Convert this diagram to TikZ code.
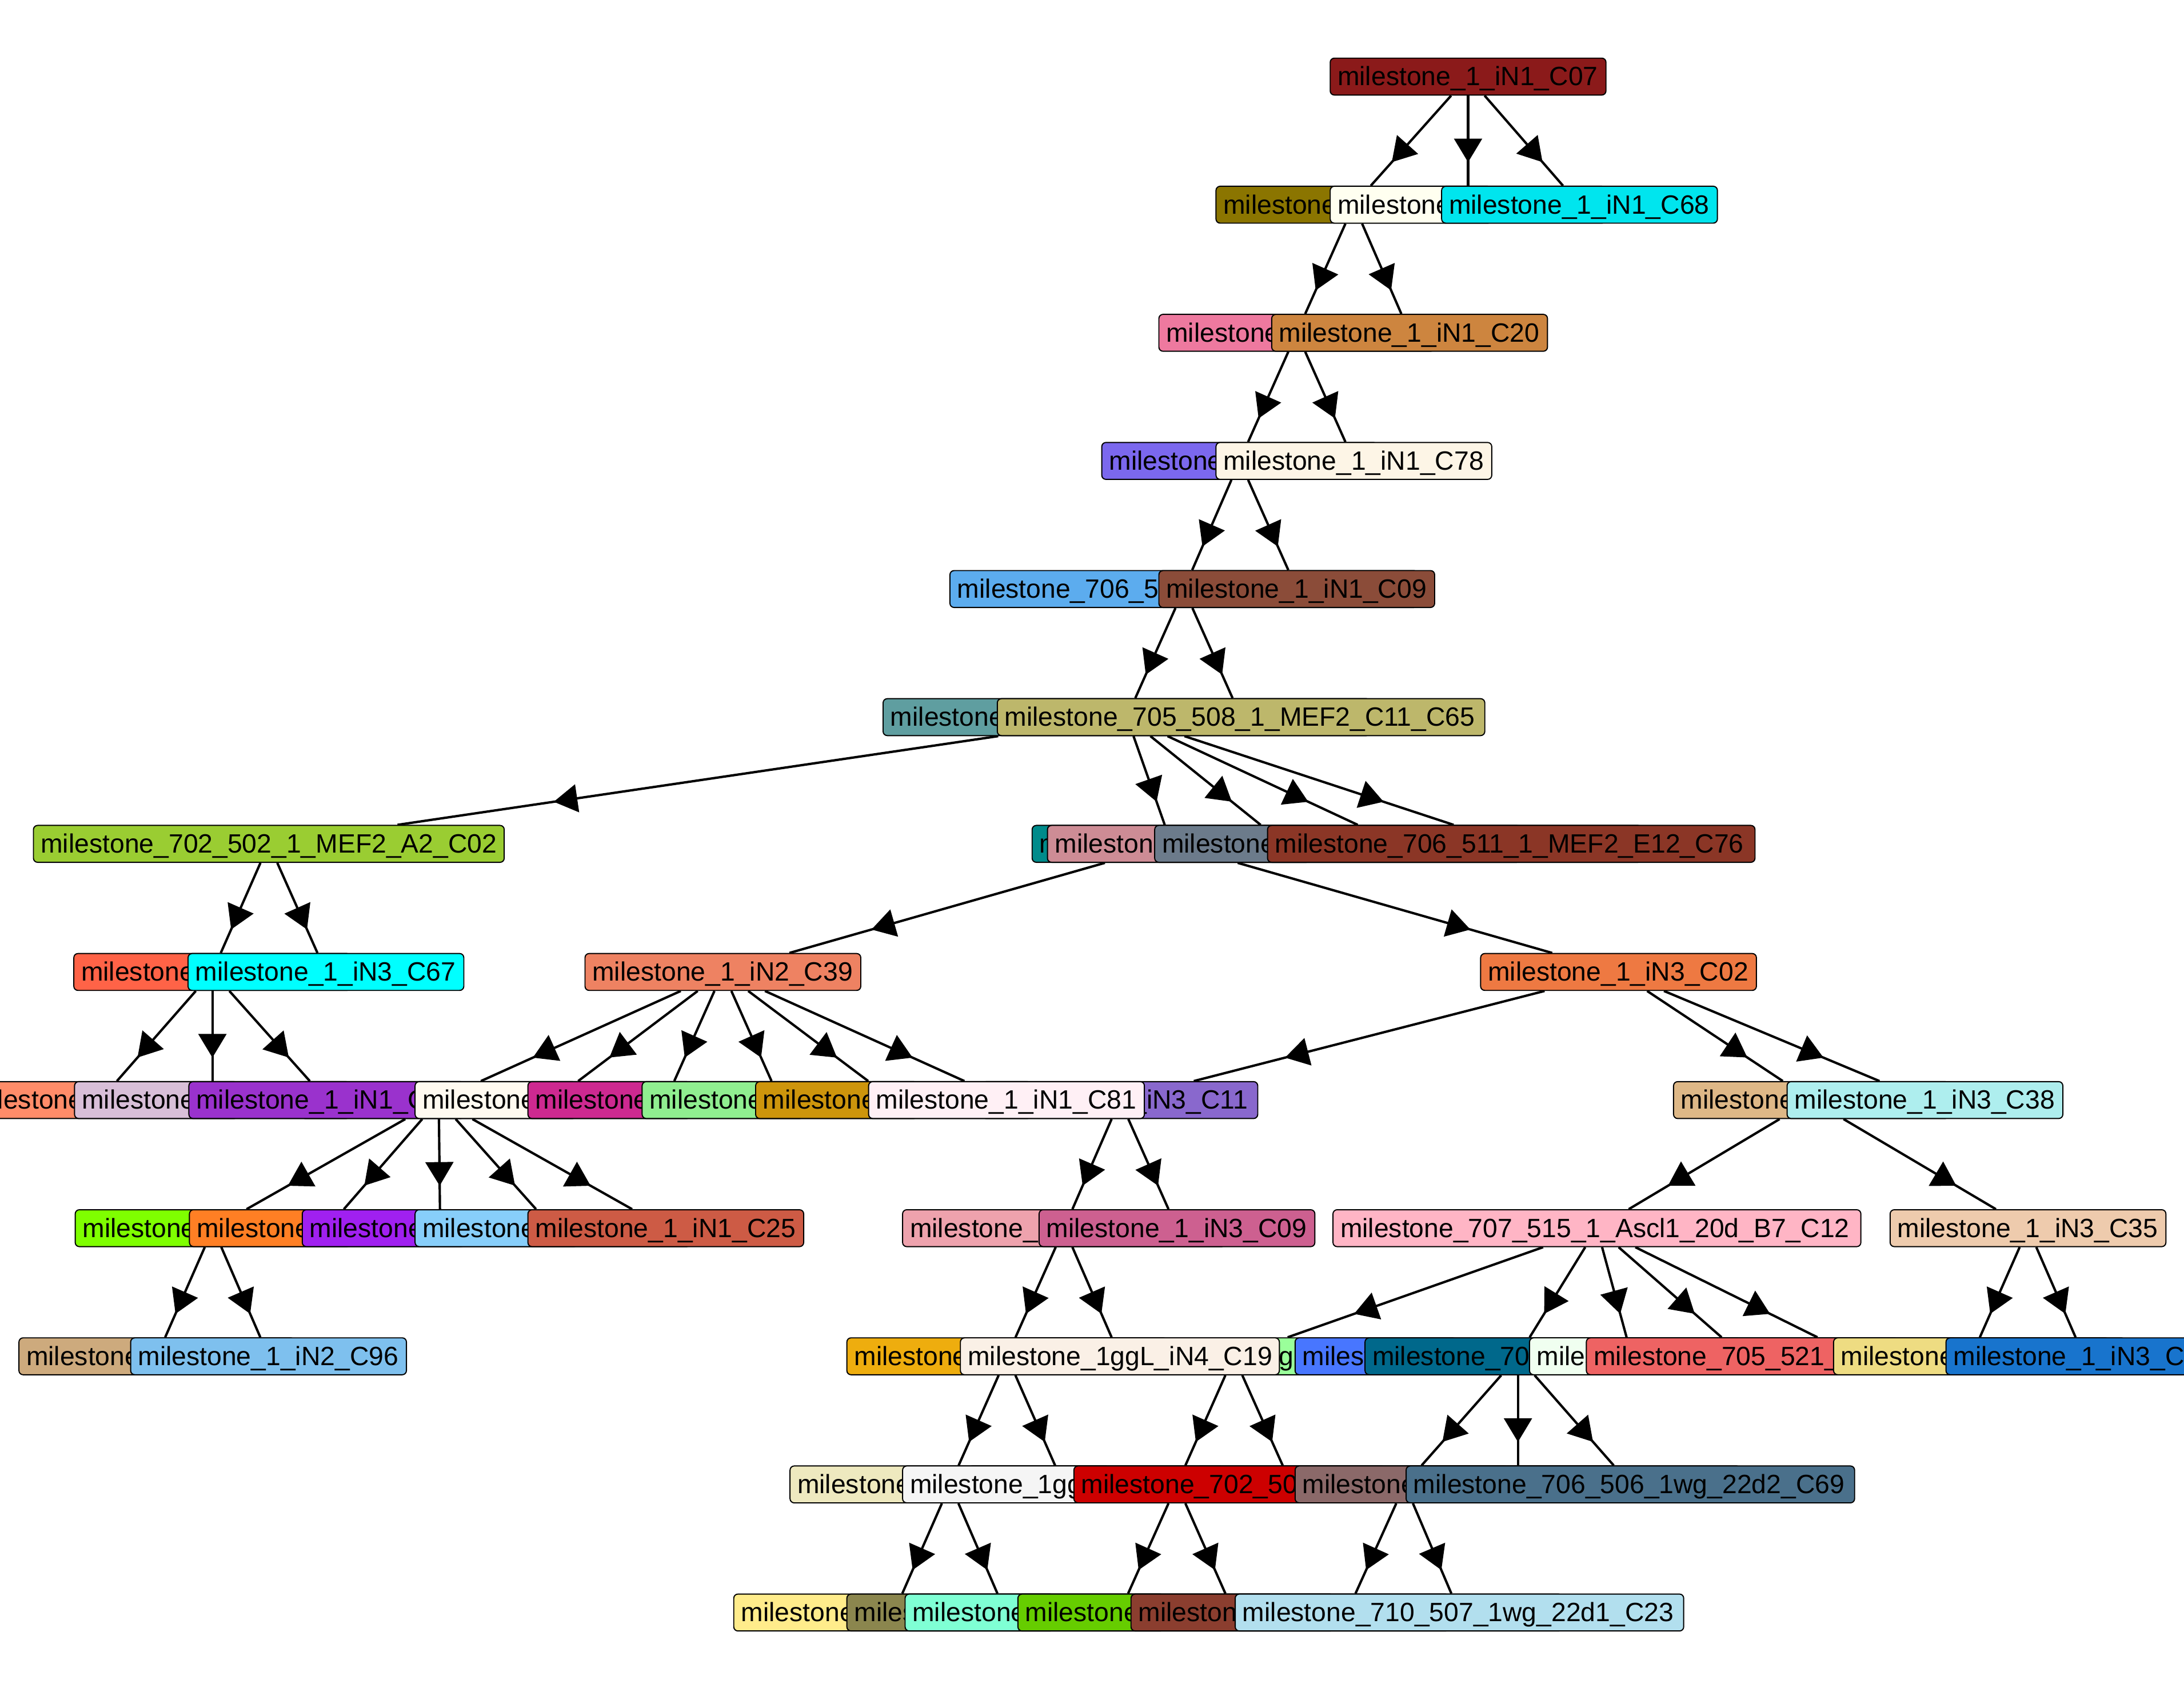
\documentclass[tikz,border=0pt]{standalone}
\usepackage{fontspec}
\setmainfont{Liberation Sans}
\usetikzlibrary{arrows.meta,decorations.markings}
\pgfdeclarelayer{bg}
\pgfsetlayers{bg,main}
\tikzset{
  mbox/.style={rectangle, draw=black, line width=0.8pt, rounded corners=3pt,
    minimum height=26.5pt, inner sep=0pt},
  mtext/.style={anchor=base west, inner sep=0pt, font=\fontsize{19pt}{19pt}\selectfont},
  medge/.style={line width=1.7pt, postaction={decorate},
    decoration={markings, mark=at position 0.74 with {\arrow{Triangle[length=17pt,width=20pt]}}}}
}
\newcommand\mkn[6]{%
  \definecolor{col#1}{HTML}{#5}%
  \node[mbox, fill=col#1, minimum width=#4pt] (#1) at (#2,#3) {};
  \node[mtext] (#1t) at ([shift={(5.5,6.5)}]#1.west) {#6};
}
\begin{document}
\begin{tikzpicture}[x=1pt,y=-1pt]
\useasboundingbox (0,0) rectangle (1568,1212);
% row 1
\mkn{a1}{1054}{55}{198}{8B1A1A}{milestone\_1\_iN1\_C07}
% row 2
\mkn{b1}{972}{147}{198}{8B7500}{milestone}
\mkn{b2}{1054}{147}{198}{FFFFF0}{milestone}
\mkn{b3}{1134}{147}{198}{00E5EE}{milestone\_1\_iN1\_C68}
% row 3
\mkn{c1}{931}{239}{198}{EE799F}{milestone}
\mkn{c2}{1012}{239}{198}{CD853F}{milestone\_1\_iN1\_C20}
% row 4
\mkn{d1}{890}{331}{198}{7B68EE}{milestone}
\mkn{d2}{972}{331}{198}{FDF5E6}{milestone\_1\_iN1\_C78}
% row 5
\mkn{e1}{850}{423}{336}{5CACEE}{milestone\_706\_5}
\mkn{e2}{931}{423}{198}{8B4C39}{milestone\_1\_iN1\_C09}
% row 6
\mkn{f1}{809}{515}{350}{5F9EA0}{milestone}
\mkn{f2}{891}{515}{350}{BDB76B}{milestone\_705\_508\_1\_MEF2\_C11\_C65}
% row 7
\mkn{g1}{193}{606}{338}{9ACD32}{milestone\_702\_502\_1\_MEF2\_A2\_C02}
\mkn{g2}{841}{606}{200}{008B8B}{milestone}
\mkn{g3}{922}{606}{340}{CD8C95}{milestone}
\mkn{g4}{1004}{606}{350}{6C7B8B}{milestone}
\mkn{g5}{1085}{606}{350}{8B3626}{milestone\_706\_511\_1\_MEF2\_E12\_C76}
% row 8
\mkn{h1}{152.5}{698}{199}{FF6347}{milestone}
\mkn{h2}{234}{698}{198}{00FFFF}{milestone\_1\_iN3\_C67}
\mkn{h3}{519}{698}{198}{EE8262}{milestone\_1\_iN2\_C39}
\mkn{h4}{1162}{698}{198}{EE7942}{milestone\_1\_iN3\_C02}
% row 9
\mkn{i0}{315}{790}{198}{FFFFFF}{}
\mkn{i1}{72}{790}{198}{FF8C69}{milestone}
\mkn{i2}{152.5}{790}{198}{D8BFD8}{milestone}
\mkn{i3}{234.6}{790}{198}{9A32CD}{milestone\_1\_iN1\_C}
\mkn{i4}{397}{790}{198}{FFFAF0}{milestone}
\mkn{i5}{478}{790}{198}{CD2990}{milestone}
\mkn{i6}{560}{790}{198}{90EE90}{milestone}
\mkn{i7}{641.5}{790}{198}{CD950C}{milestone}
\mkn{i9}{804}{790}{198}{8968CD}{milestone\_1\_iN3\_C11}
\mkn{i8}{722.6}{790}{198}{FFF0F5}{milestone\_1\_iN1\_C81}
\mkn{i10}{1300.5}{790}{198}{DEB887}{milestone}
\mkn{i11}{1382}{790}{198}{AEEEEE}{milestone\_1\_iN3\_C38}
% row 10
\mkn{j1}{153}{882}{198}{7FFF00}{milestone}
\mkn{j2}{235}{882}{198}{FF7F24}{milestone}
\mkn{j3}{316}{882}{198}{A020F0}{milestone}
\mkn{j4}{397}{882}{198}{87CEFA}{milestone}
\mkn{j5}{478}{882}{198}{CD5B45}{milestone\_1\_iN1\_C25}
\mkn{j6}{764}{882}{232}{EEA2AD}{milestone\_}
\mkn{j7}{845}{882}{198}{CD6090}{milestone\_1\_iN3\_C09}
\mkn{j8}{1146.5}{882}{379}{FFB5C5}{milestone\_707\_515\_1\_Ascl1\_20d\_B7\_C12}
\mkn{j9}{1456}{882}{198}{EECBAD}{milestone\_1\_iN3\_C35}
% row 11
\mkn{k1}{112.6}{974}{198}{CDAA7D}{milestone}
\mkn{k2}{192.8}{974}{198}{7EC0EE}{milestone\_1\_iN2\_C96}
\mkn{k4}{885.8}{974}{320}{9AFF9A}{\phantom{milestone\_706\_506\_1}g}
\mkn{k3}{723}{974}{230}{EEAD0E}{milestone}
\mkn{k5}{804}{974}{229}{FAF0E6}{milestone\_1ggL\_iN4\_C19}
\mkn{k6}{1089.8}{974}{320}{4876FF}{milestone}
\mkn{k7}{1171.5}{974}{383}{00688B}{milestone\_70}
\mkn{k8}{1251.6}{974}{307}{F0FFF0}{milestone}
\mkn{k9}{1332.4}{974}{387}{EE6363}{milestone\_705\_521\_}
\mkn{k10}{1415.4}{974}{198}{EEDC82}{milestone}
\mkn{k11}{1496.1}{974}{198}{1874CD}{milestone\_1\_iN3\_C}
% row 12
\mkn{lA}{845}{1066}{300}{FFFFFF}{}
\mkn{lB}{1008.6}{1066}{300}{FFFFFF}{}
\mkn{l1}{682.2}{1066}{230}{EEE9BF}{milestone}
\mkn{l2}{763.5}{1066}{231}{F5F5F5}{milestone\_1gg}
\mkn{l3}{927}{1066}{312}{CD0000}{milestone\_702\_50}
\mkn{l4}{1089.8}{1066}{320}{8B6969}{milestone}
\mkn{l5}{1170.5}{1066}{322}{4A708B}{milestone\_706\_506\_1wg\_22d2\_C69}
% row 13
\mkn{m1}{641.8}{1158}{230}{FFEC8B}{milestone}
\mkn{m2}{722}{1158}{228}{8B864E}{milestone}
\mkn{m3}{803.8}{1158}{308}{7FFFD4}{milestone}
\mkn{m4}{885.8}{1158}{310}{66CD00}{milestone}
\mkn{m5}{967}{1158}{310}{8B3E2F}{milestone}
\mkn{m6}{1047.8}{1158}{322}{B2DFEE}{milestone\_710\_507\_1wg\_22d1\_C23}
% edges
\begin{pgfonlayer}{bg}
\fill[white] (0,0) rectangle (1568,1212);
\foreach \p/\c in {a1/b1,a1/b2,a1/b3,b1/c1,b1/c2,c1/d1,c1/d2,d1/e1,d1/e2,e1/f1,e1/f2,
  f1/g1,f1/g2,f1/g3,f1/g4,f1/g5,g1/h1,g1/h2,g2/h3,g2/h4,h1/i1,h1/i2,h1/i3,
  h3/i0,h3/i4,h3/i5,h3/i6,h3/i7,h3/i8,h4/i9,h4/i10,h4/i11,
  i0/j1,i0/j2,i0/j3,i0/j4,i0/j5,i9/j6,i9/j7,i10/j8,i10/j9,
  j1/k1,j1/k2,j6/k3,j6/k5,j8/k4,j8/k6,j8/k7,j8/k8,j8/k9,j9/k10,j9/k11,
  k3/l1,k3/l2,k4/lA,k4/l3,k6/lB,k6/l4,k6/l5,l1/m1,l1/m2,lA/m3,lA/m4,lB/m5,lB/m6}
  \draw[medge] (\p) -- (\c);
\end{pgfonlayer}
\end{tikzpicture}
\end{document}
